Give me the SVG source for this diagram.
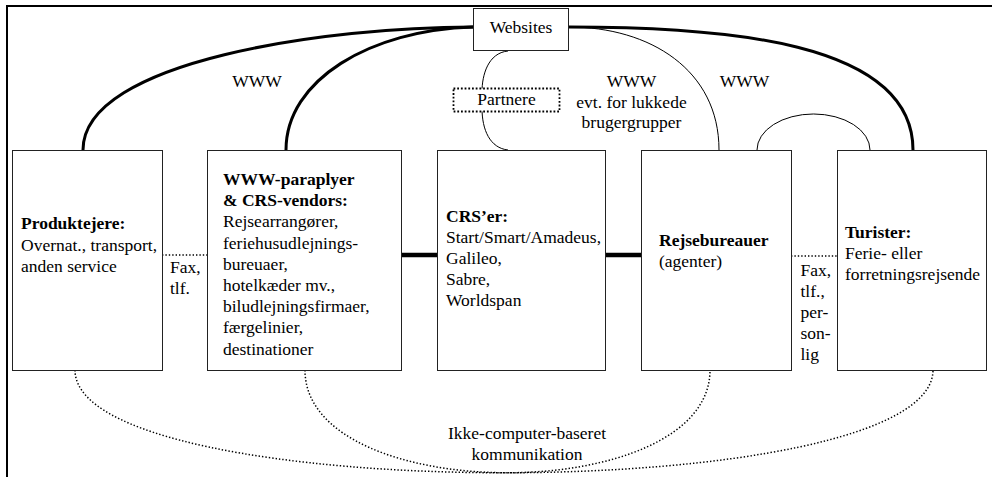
<svg xmlns="http://www.w3.org/2000/svg" width="992" height="477" viewBox="0 0 992 477">
  <style>
    .t { font-family: "Liberation Serif", "Times New Roman", serif; font-size: 17.5px; fill: #000; }
    .b { font-weight: bold; }
    .c { text-anchor: middle; }
    .box { fill: #fff; stroke: #222; stroke-width: 1; }
    .frame { fill: none; stroke: #000; stroke-width: 2; }
    .thick { fill: none; stroke: #000; stroke-width: 3; }
    .thin { fill: none; stroke: #000; stroke-width: 1; }
    .bar { fill: none; stroke: #000; stroke-width: 4.5; }
    .dot { fill: none; stroke: #000; stroke-width: 1.5; stroke-dasharray: 1.4 2; }
    .dotbox { fill: #fff; stroke: #000; stroke-width: 1.8; stroke-dasharray: 1.8 1.9; }
  </style>

  <!-- outer frame (top and left edges) -->
  <path class="frame" d="M7,477 L7,6 L992,6"/>

  <g id="connectors">
    <!-- WWW links to Websites -->
    <path class="thick" d="M83,150 C83,60 330,27 473,27"/>
    <path class="thick" d="M286,150 C286,80 370,30 473,27"/>
    <path class="thick" d="M569,27 C720,27 913,40 913,150"/>
    <path class="thin" d="M569,27 C650,27 719,70 719,150"/>
    <!-- Websites - CRS via partners -->
    <path class="thin" d="M508,51 C488,53 482,75 482,92 L482,108 C482,130 490,148 508,150"/>
    <!-- agents - tourists loop -->
    <path class="thin" d="M757,150 A56.5,36 0 0 1 870,150"/>
    <!-- direct links between boxes -->
    <path class="dot" d="M162,255 L207,255"/>
    <path class="bar" d="M401,255 L437,255"/>
    <path class="bar" d="M605,255 L641,255"/>
    <path class="dot" d="M791,256 L837,256"/>
    <!-- non-computer based communication -->
    <path class="dot" d="M75,370 C75,507 933,507 933,370"/>
    <path class="dot" d="M305,370 C305,507 710,507 710,370"/>
  </g>

  <g id="websites">
    <rect class="box" x="473.5" y="8.5" width="95" height="42"/>
    <text class="t c" x="521" y="33">Websites</text>
  </g>

  <g id="partnere">
    <rect class="dotbox" x="453.5" y="88.5" width="106" height="23"/>
    <text class="t c" x="506.5" y="105">Partnere</text>
  </g>

  <g id="labels-www">
    <text class="t c" x="257" y="86.5">WWW</text>
    <text class="t c" x="631.5" y="86.5">WWW</text>
    <text class="t c" x="631.5" y="107.5">evt. for lukkede</text>
    <text class="t c" x="631.5" y="128">brugergrupper</text>
    <text class="t c" x="744.5" y="86.5">WWW</text>
  </g>

  <g id="produktejere">
    <rect class="box" x="12.5" y="150.5" width="150" height="220"/>
    <text class="t" x="21" y="229"><tspan class="b">Produktejere:</tspan><tspan x="21" dy="21.5">Overnat., transport,</tspan><tspan x="21" dy="21.5">anden service</tspan></text>
  </g>

  <g id="fax1">
    <text class="t" x="170" y="273">Fax,<tspan x="170" dy="21">tlf.</tspan></text>
  </g>

  <g id="paraplyer">
    <rect class="box" x="207.5" y="150.5" width="194" height="220"/>
    <text class="t" x="223" y="185"><tspan class="b">WWW-paraplyer</tspan><tspan class="b" x="223" dy="21.2">&amp; CRS-vendors:</tspan><tspan x="223" dy="21.2">Rejsearrangører,</tspan><tspan x="223" dy="21.2">feriehusudlejnings-</tspan><tspan x="223" dy="21.2">bureuaer,</tspan><tspan x="223" dy="21.2">hotelkæder mv.,</tspan><tspan x="223" dy="21.2">biludlejningsfirmaer,</tspan><tspan x="223" dy="21.2">færgelinier,</tspan><tspan x="223" dy="21.2">destinationer</tspan></text>
  </g>

  <g id="crs">
    <rect class="box" x="437.5" y="150.5" width="168" height="220"/>
    <text class="t" x="446" y="222"><tspan class="b">CRS’er:</tspan><tspan x="446" dy="21">Start/Smart/Amadeus,</tspan><tspan x="446" dy="21">Galileo,</tspan><tspan x="446" dy="21">Sabre,</tspan><tspan x="446" dy="21">Worldspan</tspan></text>
  </g>

  <g id="rejsebureauer">
    <rect class="box" x="641.5" y="150.5" width="150" height="220"/>
    <text class="t" x="659" y="246"><tspan class="b">Rejsebureauer</tspan><tspan x="659" dy="21">(agenter)</tspan></text>
  </g>

  <g id="fax2">
    <text class="t" x="800.5" y="276">Fax,<tspan x="800.5" dy="21">tlf.,</tspan><tspan x="800.5" dy="21">per-</tspan><tspan x="800.5" dy="21">son-</tspan><tspan x="800.5" dy="21">lig</tspan></text>
  </g>

  <g id="turister">
    <rect class="box" x="837.5" y="150.5" width="149" height="220"/>
    <text class="t" x="845" y="238"><tspan class="b">Turister:</tspan><tspan x="845" dy="21">Ferie- eller</tspan><tspan x="845" dy="21">forretningsrejsende</tspan></text>
  </g>

  <g id="ikke-computer">
    <text class="t c" x="527" y="438.5">Ikke-computer-baseret<tspan x="527" dy="21">kommunikation</tspan></text>
  </g>
</svg>
